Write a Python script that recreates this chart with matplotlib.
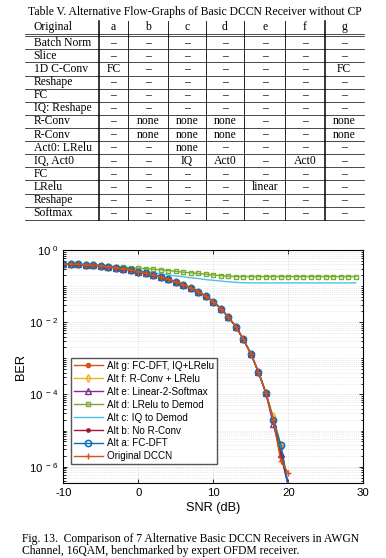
import numpy as np
import matplotlib
matplotlib.use("Agg")
from matplotlib import pyplot as plt
from matplotlib.ticker import LogLocator, NullFormatter, FixedLocator

plt.rcParams['font.family'] = ['Liberation Sans', 'DejaVu Sans']
plt.rcParams['mathtext.fontset'] = 'custom'
plt.rcParams['mathtext.rm'] = 'Liberation Sans'
plt.rcParams['mathtext.default'] = 'regular'
plt.rcParams['axes.unicode_minus'] = False

# ---- table data ----
table_title = "Table V. Alternative Flow-Graphs of Basic DCCN Receiver without CP"
col_names = ["Original", "a", "b", "c", "d", "e", "f", "g"]
row_names = ["Batch Norm", "Slice", "1D C-Conv", "Reshape", "FC", "IQ: Reshape",
             "R-Conv", "R-Conv", "Act0: LRelu", "IQ, Act0", "FC", "LRelu",
             "Reshape", "Softmax"]
D = "\u2013"
cells = [
    [D, D, D, D, D, D, D],
    [D, D, D, D, D, D, D],
    ["FC", D, D, D, D, D, "FC"],
    [D, D, D, D, D, D, D],
    [D, D, D, D, D, D, D],
    [D, D, D, D, D, D, D],
    [D, "none", "none", "none", D, D, "none"],
    [D, "none", "none", "none", D, D, "none"],
    [D, D, "none", D, D, D, D],
    [D, D, "IQ", "Act0", D, "Act0", D],
    [D, D, D, D, D, D, D],
    [D, D, D, D, "linear", D, D],
    [D, D, D, D, D, D, D],
    [D, D, D, D, D, D, D],
]

# ---- BER curves ----
snr_main = list(range(-10, 21))
snr_long = list(range(-10, 30))
ber_common = [0.407, 0.407, 0.398, 0.389, 0.380, 0.363, 0.347, 0.324, 0.302, 0.282,
              0.251, 0.229, 0.204, 0.178, 0.155, 0.132, 0.110, 0.0891, 0.0708, 0.0525,
              0.0372, 0.0240, 0.0138, 0.00759, 0.00339, 0.00135, 4.27e-4, 1.12e-4]
ber_g = ber_common + [2.0e-5, 3.5e-6, 3.0e-7]
ber_f = ber_common + [2.5e-5, 4.0e-6, 3.0e-7]
ber_e = ber_common + [1.5e-5, 2.3e-6, 3.0e-7]
ber_b = ber_common + [1.9e-5, 2.1e-6, 3.0e-7]
ber_a = ber_common + [1.95e-5, 4.0e-6, 3.0e-7]
ber_orig = ber_common + [2.0e-5, 1.4e-6, 6.8e-7]
ber_d = [0.407, 0.407, 0.398, 0.389, 0.380, 0.372, 0.363, 0.347, 0.339, 0.324,
         0.316, 0.302, 0.292, 0.282, 0.269, 0.257, 0.243, 0.234, 0.224, 0.214,
         0.204, 0.195, 0.188, 0.184, 0.184, 0.184, 0.184, 0.184, 0.184, 0.184,
         0.184, 0.184, 0.184, 0.184, 0.184, 0.184, 0.184, 0.184, 0.184, 0.184]
ber_c = [0.407, 0.407, 0.398, 0.389, 0.380, 0.363, 0.347, 0.324, 0.309, 0.288,
         0.269, 0.251, 0.234, 0.219, 0.204, 0.191, 0.182, 0.170, 0.162, 0.151,
         0.145, 0.138, 0.132, 0.127, 0.124, 0.123, 0.123, 0.123, 0.123, 0.123,
         0.123, 0.123, 0.123, 0.123, 0.123, 0.123, 0.123, 0.123, 0.123, 0.123]

W, H = 386, 558
fig = plt.figure(figsize=(W / 100, H / 100), dpi=100)

# table drawn in pixel coords
tab = fig.add_axes([0, 0, 1, 1])
tab.set_xlim(0, W)
tab.set_ylim(H, 0)
tab.axis('off')
serif = ['Liberation Serif', 'DejaVu Serif']
fs = 8.4
tab.text(195, 12, table_title, family=serif, fontsize=fs, ha='center', va='center')
col_x = [113.3, 148.3, 186.7, 225, 265, 305, 344]
vlines = [99, 128.3, 167.7, 206, 244.3, 285, 325]
row_y0, row_dy = 42.7, 13.12
tab.text(33.5, 27, col_names[0], family=serif, fontsize=fs, ha='left', va='center')
for x, c in zip(col_x, col_names[1:]):
    tab.text(x, 27, c, family=serif, fontsize=fs, ha='center', va='center')
for i, (rn, row) in enumerate(zip(row_names, cells)):
    y = row_y0 + i * row_dy
    tab.text(33.5, y, rn, family=serif, fontsize=fs, ha='left', va='center')
    for x, v in zip(col_x, row):
        tab.text(x, y, v, family=serif, fontsize=fs, ha='center', va='center')
    tab.plot([25, 363.5], [y + row_dy / 2] * 2, color='k', lw=0.5)
tab.plot([25, 363.5], [33.6, 33.6], color='k', lw=0.5)
tab.plot([25, 363.5], [36.0, 36.0], color='k', lw=0.5)
y_bot = row_y0 + (len(row_names) - 0.5) * row_dy
for k, x in enumerate(vlines):
    lw = 1.1 if k in (0, 6) else 0.6
    tab.plot([x, x], [20.5, y_bot], color='k', lw=lw)

# caption
tab.text(22, 539, "Fig. 13.  Comparison of 7 Alternative Basic DCCN Receivers in AWGN",
         family=serif, fontsize=8.4, ha='left', va='center')
tab.text(22, 551.3, "Channel, 16QAM, benchmarked by expert OFDM receiver.",
         family=serif, fontsize=8.4, ha='left', va='center')

# BER plot
ax = fig.add_axes([63.3 / W, 1 - 483.3 / H, 300 / W, 233.3 / H])
lw = 1.0
ax.semilogy(snr_main, ber_g, '-o', color='#D95319', ms=3.0, lw=lw, label='Alt g: FC-DFT, IQ+LRelu')
ax.semilogy(snr_main, ber_f, '-d', color='#EDB120', ms=4.0, mfc='none', lw=lw, label='Alt f: R-Conv + LRelu')
ax.semilogy(snr_main, ber_e, '-^', color='#7E2F8E', ms=4.0, mfc='none', lw=lw, label='Alt e: Linear-2-Softmax')
ax.semilogy(snr_long, ber_d, '-s', color='#77AC30', ms=3.5, mfc='none', lw=lw, label='Alt d: LRelu to Demod')
ax.semilogy(snr_long, ber_c, '-.', color='#4DBEEE', ms=2.0, lw=lw, linestyle='-', label='Alt c: IQ to Demod')
ax.semilogy(snr_main, ber_b, '-o', color='#A2142F', ms=2.4, lw=lw, label='Alt b: No R-Conv')
ax.semilogy(snr_main, ber_a, '-o', color='#0072BD', ms=4.5, mfc='none', mew=1.1, lw=lw, label='Alt a: FC-DFT')
ax.semilogy(snr_main, ber_orig, '-+', color='#D95319', ms=5.0, mew=1.0, lw=lw, label='Original DCCN')

ax.set_xlim(-10, 30)
ax.set_ylim(3.47e-7, 1)
ax.set_xticks([-10, 0, 10, 20, 30])
ax.yaxis.set_major_locator(FixedLocator([1e-6, 1e-4, 1e-2, 1]))
ax.yaxis.set_major_formatter(plt.FuncFormatter(lambda v, p: r'$10^{\ %d}$' % round(np.log10(v))))
ax.yaxis.set_minor_locator(LogLocator(base=10, subs=np.arange(1, 10), numticks=20))
ax.yaxis.set_minor_formatter(NullFormatter())
ax.tick_params(which='both', direction='in', top=True, right=True, labelsize=8.2, width=0.6)
ax.tick_params(which='major', length=3)
ax.tick_params(which='minor', length=1.8)
ax.grid(True, which='major', color='#d0d0d0', ls=':', lw=0.6)
ax.grid(True, which='minor', axis='y', color='#d8d8d8', ls=':', lw=0.5)
for s in ax.spines.values():
    s.set_linewidth(0.8)
ax.set_xlabel('SNR (dB)', fontsize=9.2, labelpad=3)
ax.set_ylabel('BER', fontsize=9.2)
ax.yaxis.set_label_coords(-0.12, 0.5)
leg = ax.legend(loc='lower left', bbox_to_anchor=(0.026, 0.081), fontsize=7.1,
                frameon=True, fancybox=False, edgecolor='#555555', framealpha=1,
                handlelength=2.9, handletextpad=0.4, labelspacing=0.3,
                borderpad=0.3, borderaxespad=0)
leg.get_frame().set_linewidth(1.0)

fig.savefig('out.png', dpi=100)
